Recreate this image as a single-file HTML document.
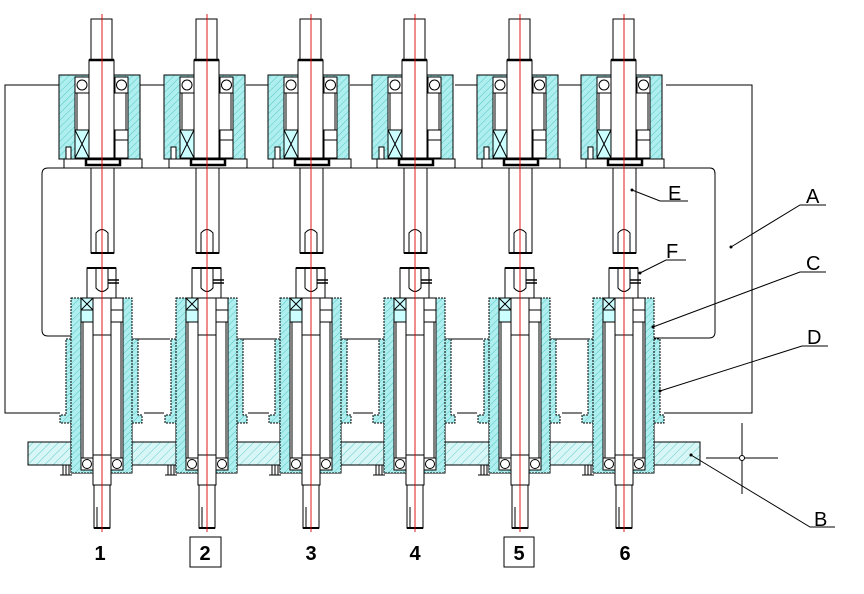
<!DOCTYPE html>
<html><head><meta charset="utf-8"><style>
html,body{margin:0;padding:0;background:#fff;}
svg{display:block;}
text{font-family:"Liberation Sans",sans-serif;}
</style></head><body>
<svg width="864" height="594" viewBox="0 0 864 594" xmlns="http://www.w3.org/2000/svg">
<defs>
<pattern id="h" width="5" height="5" patternUnits="userSpaceOnUse" patternTransform="rotate(45)">
<rect width="5" height="5" fill="#aeeeee"/><line x1="0" y1="0" x2="0" y2="5" stroke="#55c8c8" stroke-width="1"/>
</pattern>
<pattern id="hw" width="6" height="6" patternUnits="userSpaceOnUse" patternTransform="rotate(45)">
<rect width="6" height="6" fill="#d8f6f6"/><line x1="0" y1="0" x2="0" y2="6" stroke="#66cccc" stroke-width="1"/>
</pattern>
<g id="u" stroke="#000" stroke-width="1">
 <!-- top shaft -->
 <rect x="-11" y="19" width="21" height="41" fill="#fff"/>
 <!-- top housing -->
 <path d="M-43,75 H38 V159 H-43 Z" fill="url(#h)"/>
 <rect x="-27" y="77" width="53" height="82" fill="#fff"/>
 <rect x="-27" y="77" width="14" height="16" fill="#fff"/><circle cx="-20" cy="85" r="5" fill="#fff"/>
 <rect x="13" y="77" width="13" height="16" fill="#fff"/><circle cx="19.5" cy="85" r="5" fill="#fff"/>
 <line x1="-25" y1="93" x2="-25" y2="130"/><line x1="24" y1="93" x2="24" y2="130"/>
 <rect x="-27" y="130" width="14" height="28" fill="#cff"/><path d="M-27,130 L-13,158 M-13,130 L-27,158" fill="none"/>
 <rect x="13" y="130" width="13" height="28" fill="#fff"/><line x1="13" y1="140" x2="26" y2="140"/>
 <rect x="-13" y="60" width="25" height="98" fill="#fff"/>
 <line x1="-13" y1="60" x2="12" y2="60" stroke-width="2.5"/>
 <rect x="-38" y="159" width="78" height="9" fill="#fff"/>
 <rect x="-16" y="159" width="34" height="6" fill="#fff" stroke-width="2.5"/>
 <rect x="-36" y="147" width="5" height="12" fill="#fff"/>
 <!-- lower upper shaft -->
 <rect x="-11" y="168" width="23" height="85" fill="#fff"/>
 <line x1="-11" y1="253" x2="12" y2="253" stroke-width="2"/>
 <path d="M-6,252 V233 Q0,226 6,233 V252" fill="none"/>
 <!-- coupling F -->
 <rect x="-15" y="268" width="29" height="30" fill="#fff"/>
 <line x1="-15" y1="268" x2="14" y2="268" stroke-width="2"/>
 <path d="M-6,268 V288 Q0,295 6,288 V268" fill="none"/>
 <line x1="6" y1="280" x2="17" y2="280" stroke-width="1.5"/><line x1="6" y1="283" x2="17" y2="283" stroke-width="1.5"/>
 <!-- D housing -->
 <path d="M-36,339 H36 V415 H40 V423 H30 V473 H-31 V423 H-42 V415 H-36 Z" fill="url(#h)" stroke-dasharray="2,1"/>
 <!-- C housing -->
 <rect x="-31" y="298" width="61" height="175" fill="url(#h)" stroke-dasharray="2,1"/>
 <rect x="-21" y="298" width="42" height="172" fill="#fff"/>
 <rect x="-21" y="298" width="12" height="24" fill="#cff"/><path d="M-21,298 L-9,310 M-9,298 L-21,310" fill="none"/><line x1="-21" y1="310" x2="-9" y2="310"/>
 <rect x="9" y="298" width="12" height="24" fill="#fff"/><line x1="9" y1="310" x2="21" y2="310"/>
 <line x1="-19" y1="322" x2="-19" y2="458"/><line x1="19" y1="322" x2="19" y2="458"/>
 <rect x="-21" y="458" width="12" height="12" fill="#fff"/><circle cx="-15" cy="464" r="4.5" fill="#fff"/>
 <rect x="9" y="458" width="12" height="12" fill="#fff"/><circle cx="15" cy="464" r="4.5" fill="#fff"/>
 <!-- lower shaft -->
 <rect x="-9" y="298" width="18" height="187" fill="#fff"/>
 <line x1="-9" y1="335" x2="9" y2="335"/><line x1="-9" y1="455" x2="9" y2="455"/>
 <rect x="-8" y="485" width="16" height="43" fill="#fff"/>
 <line x1="-8" y1="528" x2="8" y2="528" stroke-width="2"/>
 <path d="M-5,507 V527" fill="none"/>
 <!-- bolts under base -->
 <path d="M-39,465 V475 M-36,465 V475 M-33,465 V475 M-42,475 H-30" fill="none"/>
 <!-- center line -->
 <line x1="0" y1="14" x2="0" y2="532" stroke="#d00" stroke-width="0.9"/>
</g>
</defs>
<!-- frame A -->
<path d="M62,85 H5 V413 H60 M140,85 H166 M246,85 H271 M350,85 H375 M455,85 H480 M559,85 H584 M666,85 H752 V413 H664 M144,413 H164 M248,413 H269 M353,413 H373 M457,413 H477 M562,413 H582" fill="none" stroke="#000"/>
<path d="M71,336 H48 Q42,336 42,330 V174 Q42,168 48,168 H710 Q715,168 715,174 V332 Q715,338 709,338 H654" fill="none" stroke="#000"/>
<path d="M133,339 H170 M237,339 H275 M342,339 H379 M446,339 H483 M551,339 H588" fill="none" stroke="#000"/>
<!-- base plate B -->
<rect x="28" y="442" width="672" height="23" fill="url(#hw)" stroke="#000"/>
<use href="#u" x="102"/><use href="#u" x="207"/><use href="#u" x="311"/>
<use href="#u" x="415"/><use href="#u" x="520"/><use href="#u" x="624"/>
<!-- leaders -->
<g stroke="#000" stroke-width="1" fill="none">
<path d="M632,190 L660,201 H688"/>
<path d="M640,273 L666,260 H686"/>
<path d="M731,247 L800,205 H826"/>
<path d="M653,327 L800,272 H826"/>
<path d="M660,391 L802,346 H828"/>
<path d="M691,455 L810,527 H835"/>
<path d="M706,458 H778 M742,423 V494"/>
<rect x="190" y="537" width="31" height="30"/><rect x="504" y="537" width="30" height="30"/>
</g>
<circle cx="742" cy="458" r="2.5" fill="#fff" stroke="#000"/>
<g fill="#000"><circle cx="632" cy="190" r="1.5"/><circle cx="640" cy="273" r="1.5"/><circle cx="731" cy="247" r="1.5"/><circle cx="653" cy="327" r="1.5"/><circle cx="660" cy="391" r="1.5"/><circle cx="691" cy="455" r="1.5"/></g>
<g font-size="20" fill="#000">
<text x="668" y="200">E</text><text x="666" y="258">F</text><text x="806" y="203">A</text><text x="806" y="270">C</text><text x="807" y="344">D</text><text x="814" y="526">B</text>
</g>
<g font-size="20" font-weight="bold" fill="#000" text-anchor="middle">
<text x="100" y="560">1</text><text x="205" y="560">2</text><text x="311" y="560">3</text><text x="415" y="560">4</text><text x="519" y="560">5</text><text x="625" y="560">6</text>
</g>
</svg>
</body></html>
